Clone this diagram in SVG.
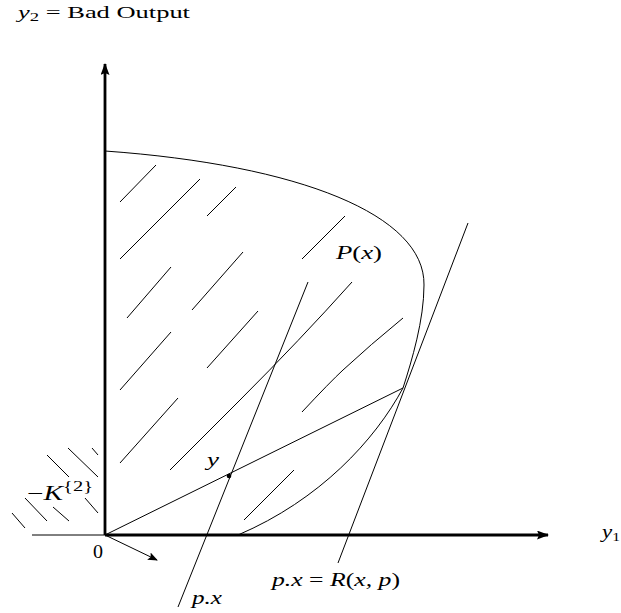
<svg xmlns="http://www.w3.org/2000/svg" width="621" height="613" viewBox="0 0 621 613">
<style>
.t{font-family:"Liberation Serif","DejaVu Serif",serif;fill:#000}
.i{font-style:italic}
.thin{stroke:#000;stroke-width:1;fill:none}
.thick{stroke:#000;stroke-width:2.8;fill:none}
</style>
<defs>
<marker id="ah" viewBox="0 0 10 8" refX="9" refY="4" markerWidth="10" markerHeight="8" markerUnits="userSpaceOnUse" orient="auto">
<path d="M0,0 L10,4 L0,8 L2,4 Z" fill="#000"/>
</marker>
<marker id="ah2" viewBox="0 0 12 9" refX="11" refY="4.5" markerWidth="12" markerHeight="9" markerUnits="userSpaceOnUse" orient="auto">
<path d="M0,0 L12,4.5 L0,9 L2,4.5 Z" fill="#000"/>
</marker>
</defs>
<rect width="621" height="613" fill="#fff"/>
<g id="axes">
<line class="thin" x1="32" y1="535" x2="105" y2="535"/>
<line class="thick" x1="105" y1="535" x2="105" y2="64" marker-end="url(#ah2)"/>
<line class="thick" x1="105" y1="535" x2="548" y2="535" marker-end="url(#ah2)"/>
</g>
<g id="frontier">
<path class="thin" d="M105,151 C300,165 425,215 424,285 C424,320 412,360 403,388 C375,440 320,500 238,535"/>
</g>
<g id="hatch">
<line class="thin" x1="120" y1="202" x2="156" y2="165"/>
<line class="thin" x1="120" y1="259" x2="200" y2="179"/>
<line class="thin" x1="207" y1="216" x2="236" y2="187"/>
<line class="thin" x1="302" y1="259" x2="345" y2="216"/>
<line class="thin" x1="127" y1="318" x2="171" y2="267"/>
<line class="thin" x1="192" y1="310" x2="243" y2="252"/>
<line class="thin" x1="120" y1="390" x2="171" y2="332"/>
<line class="thin" x1="207" y1="368" x2="258" y2="311"/>
<line class="thin" x1="120" y1="463" x2="178" y2="398"/>
<line class="thin" x1="244" y1="520" x2="294" y2="470"/>
<path class="thin" d="M170,470 L240,400 Q300,340 352,282"/>
<path class="thin" d="M302,412 Q330,382 343,370 Q370,345 403,318"/>
<line class="thin" x1="47" y1="455" x2="69" y2="477"/>
<line class="thin" x1="68" y1="448" x2="98" y2="477"/>
<line class="thin" x1="92" y1="448" x2="98" y2="455"/>
<line class="thin" x1="25" y1="498" x2="47" y2="521"/>
<line class="thin" x1="53" y1="507" x2="69" y2="521"/>
<line class="thin" x1="85" y1="498" x2="98" y2="513"/>
<line class="thin" x1="12" y1="513" x2="25" y2="528"/>
</g>
<g id="connectors">
<line class="thin" x1="468" y1="223" x2="338" y2="563"/>
<line class="thin" x1="308" y1="282" x2="178" y2="607"/>
<line class="thin" x1="105" y1="535" x2="403" y2="388"/>
<line class="thin" x1="105" y1="535" x2="157" y2="560" marker-end="url(#ah)"/>
<circle cx="229" cy="476" r="2.3" fill="#000"/>
</g>
<g id="labels">
<text class="t" x="18" y="18" font-size="17" textLength="172" lengthAdjust="spacingAndGlyphs"><tspan class="i">y</tspan><tspan font-size="12" dy="3">2</tspan><tspan dy="-3"> = Bad Output</tspan></text>
<text class="t" x="336" y="259" font-size="19" textLength="46" lengthAdjust="spacingAndGlyphs"><tspan class="i">P</tspan>(<tspan class="i">x</tspan>)</text>
<text class="t i" x="207" y="466" font-size="19" textLength="12" lengthAdjust="spacingAndGlyphs">y</text>
<text class="t" x="93" y="558" font-size="18" textLength="10" lengthAdjust="spacingAndGlyphs">0</text>
<text class="t" x="27" y="500" font-size="20" textLength="66" lengthAdjust="spacingAndGlyphs">−<tspan class="i">K</tspan><tspan font-size="14" dy="-9">{2}</tspan></text>
<text class="t i" x="192" y="604" font-size="18" textLength="30" lengthAdjust="spacingAndGlyphs">p.x</text>
<text class="t" x="272" y="586" font-size="18" textLength="128" lengthAdjust="spacingAndGlyphs"><tspan class="i">p.x</tspan> = <tspan class="i">R</tspan>(<tspan class="i">x, p</tspan>)</text>
<text class="t" x="602" y="538" font-size="19" textLength="18" lengthAdjust="spacingAndGlyphs"><tspan class="i">y</tspan><tspan font-size="13" dy="3">1</tspan></text>
</g>
</svg>
